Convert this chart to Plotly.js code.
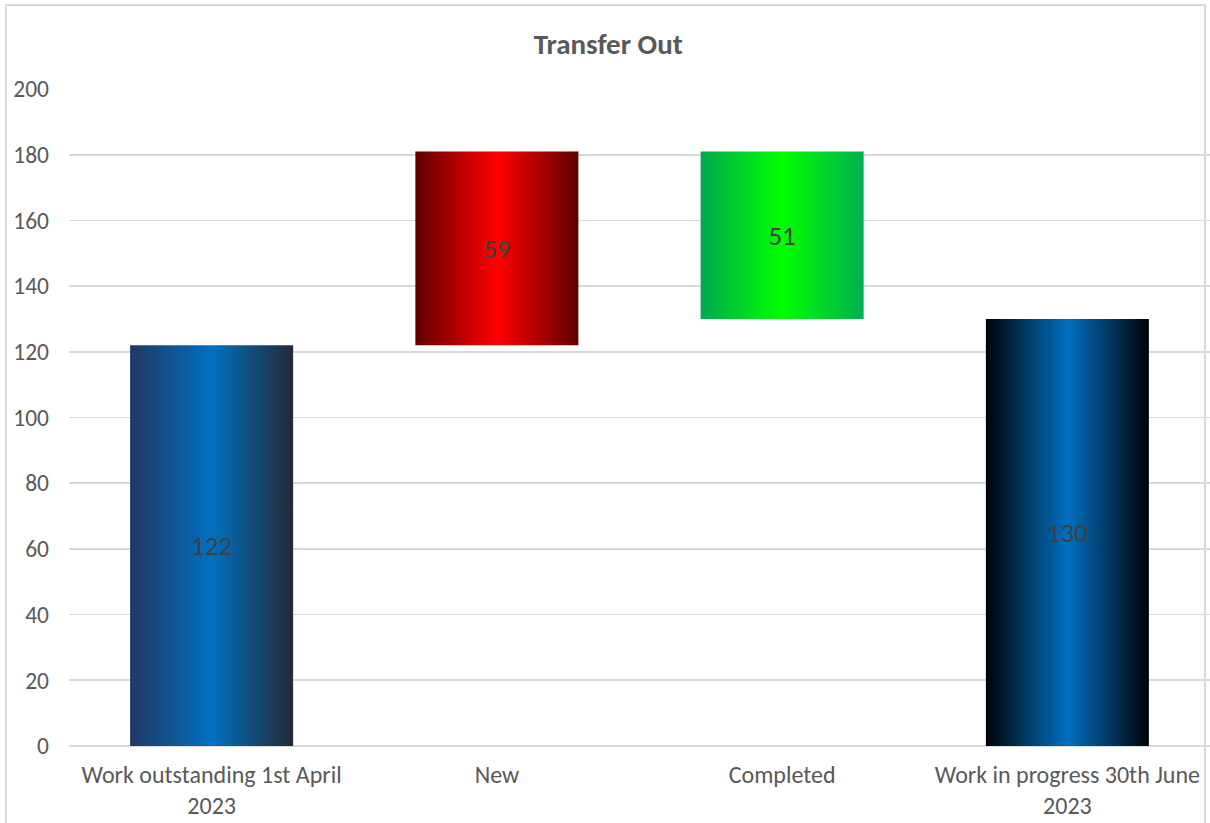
<!DOCTYPE html>
<html>
<head>
<meta charset="utf-8">
<script src="https://cdn.plot.ly/plotly-3.0.1.min.js"></script>
<style>
  html, body { margin: 0; padding: 0; background: #ffffff; }
  #wrap { position: relative; width: 1210px; height: 823px; overflow: hidden; }
  #chart { position: absolute; left: 0; top: 0; width: 1210px; height: 823px; }
  #frame { position: absolute; left: 5px; top: 4px; width: 1201px; height: 840px;
           border: 2px solid #d9d9d9; pointer-events: none; box-sizing: border-box; }
</style>
</head>
<body>
<div id="wrap">
  <div id="chart"></div>
  <div id="frame"></div>
</div>
<script>
// Transfer Out: opening balance, movements, closing balance
const categories = [
  "Work outstanding 1st April<br>2023",
  "New",
  "Completed",
  "Work in progress 30th June<br>2023"
];
const openingBalance = 122;
const newItems = 59;
const completedItems = 51;
const closingBalance = 130;

const barValues = [openingBalance, newItems, completedItems, closingBalance];
const peak = openingBalance + newItems;
const barBases = [0, openingBalance, peak - completedItems, 0];
const barLabels = barValues.map(String);

// horizontal gradients per bar: [edge-left, centre, edge-right]
const barGradients = [
  ["#203864", "#0070C0", "#222A35"],
  ["#600000", "#FF0000", "#600000"],
  ["#00A84F", "#00FF00", "#00B050"],
  ["#000308", "#0070C0", "#000308"]
];

const fontFamily = "Carlito, Lato, 'Open Sans', sans-serif";

const trace = {
  type: "bar",
  x: categories,
  y: barValues,
  base: barBases,
  text: barLabels,
  textposition: "inside",
  insidetextanchor: "middle",
  textangle: 0,
  textfont: { family: fontFamily, size: 27, color: "#404040" },
  marker: { color: barGradients.map(g => g[1]), line: { width: 0 } },
  hoverinfo: "skip",
  cliponaxis: false
};

const layout = {
  width: 1210,
  height: 823,
  margin: { l: 69, r: 0, t: 89, b: 77 },
  paper_bgcolor: "rgba(0,0,0,0)",
  plot_bgcolor: "rgba(0,0,0,0)",
  showlegend: false,
  bargap: 0.4285,
  title: {
    text: "<b>Transfer Out</b>",
    x: 0.5027, xanchor: "center",
    y: 0.947, yanchor: "middle",
    font: { family: fontFamily, size: 29, color: "#595959" }
  },
  xaxis: {
    type: "category",
    showgrid: false,
    showline: false,
    zeroline: false,
    ticks: "",
    tickfont: { family: fontFamily, size: 24, color: "#595959" },
    ticklabelstandoff: 12
  },
  yaxis: {
    range: [0, 200],
    dtick: 20,
    tick0: 0,
    showgrid: true,
    gridcolor: "#d9d9d9",
    gridwidth: 1.8,
    zeroline: true,
    zerolinecolor: "#d9d9d9",
    zerolinewidth: 1.8,
    showline: false,
    ticks: "",
    tickfont: { family: fontFamily, size: 23.5, color: "#595959" },
    ticklabelstandoff: 19
  }
};

const gd = document.getElementById("chart");
Plotly.newPlot(gd, [trace], layout, { displayModeBar: false, staticPlot: true }).then(() => {
  const svg = gd.querySelector(".main-svg");
  const ns = "http://www.w3.org/2000/svg";
  const defs = document.createElementNS(ns, "defs");
  barGradients.forEach((g, i) => {
    const lg = document.createElementNS(ns, "linearGradient");
    lg.setAttribute("id", "barGrad" + i);
    lg.setAttribute("x1", "0"); lg.setAttribute("y1", "0");
    lg.setAttribute("x2", "1"); lg.setAttribute("y2", "0");
    [[0, g[0]], [0.5, g[1]], [1, g[2]]].forEach(([off, col]) => {
      const st = document.createElementNS(ns, "stop");
      st.setAttribute("offset", off);
      st.setAttribute("stop-color", col);
      lg.appendChild(st);
    });
    defs.appendChild(lg);
  });
  svg.insertBefore(defs, svg.firstChild);
  gd.querySelectorAll(".barlayer .point path").forEach((p, i) => {
    p.style.fill = "url(#barGrad" + i + ")";
  });
});
</script>
</body>
</html>
